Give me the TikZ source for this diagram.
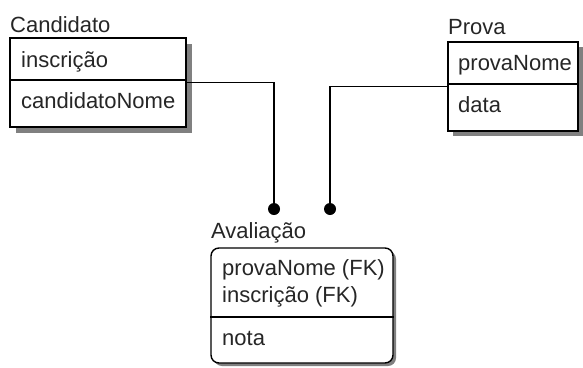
\documentclass[tikz,border=0pt]{standalone}
\usepackage{fontspec}
\setmainfont{Liberation Sans}

\begin{document}
\begin{tikzpicture}[x=1pt,y=-1pt,
  entbox/.style={draw,line width=1.4pt,fill=white,inner sep=0pt},
  boxshadow/.style={fill=black!50},
  lbl/.style={anchor=base west,inner sep=0pt,text=black!85,font=\fontsize{22}{26}\selectfont},
  fkdot/.style={circle,fill=black,inner sep=0pt,minimum size=12pt},
  conn/.style={line width=1.4pt}]
\useasboundingbox (0,0) rectangle (583,367);

% sombras
\fill[boxshadow] (16,44) rectangle (192,133);
\fill[boxshadow] (453,47) rectangle (583,136);
\fill[boxshadow,rounded corners=8pt] (214,251) rectangle (396,366);

% Candidato
\node[entbox,minimum width=176pt,minimum height=89pt] (cand) at (98,82.5) {};
\draw[conn] (cand.west |- 0,80) -- (cand.east |- 0,80);
\node[lbl] (candTitle) at (10,32) {Candidato};
\node[lbl] (candKey) at (21,67) {inscrição};
\node[lbl] (candAttr) at (21,108) {candidatoNome};

% Prova
\node[entbox,minimum width=130pt,minimum height=89pt] (prova) at (513,86.5) {};
\draw[conn] (prova.west |- 0,84) -- (prova.east |- 0,84);
\node[lbl] (provaTitle) at (448,34) {Prova};
\node[lbl] (provaKey) at (458,70) {provaNome};
\node[lbl] (provaAttr) at (458,112) {data};

% Avaliacao
\node[entbox,rounded corners=8pt,minimum width=182pt,minimum height=115pt] (aval) at (302,305.5) {};
\draw[conn] (aval.west |- 0,317) -- (aval.east |- 0,317);
\node[lbl] (avalTitle) at (211,238) {Avaliação};
\node[lbl] (avalKeyA) at (222,275) {provaNome (FK)};
\node[lbl] (avalKeyB) at (222,302) {inscrição (FK)};
\node[lbl] (avalAttr) at (222,345) {nota};

% relacoes
\node[fkdot] (dotCand) at (274,209) {};
\node[fkdot] (dotProva) at (330,209) {};
\draw[conn] (cand.east) -| (dotCand);
\draw[conn] (prova.west) -| (dotProva);
\end{tikzpicture}
\end{document}
